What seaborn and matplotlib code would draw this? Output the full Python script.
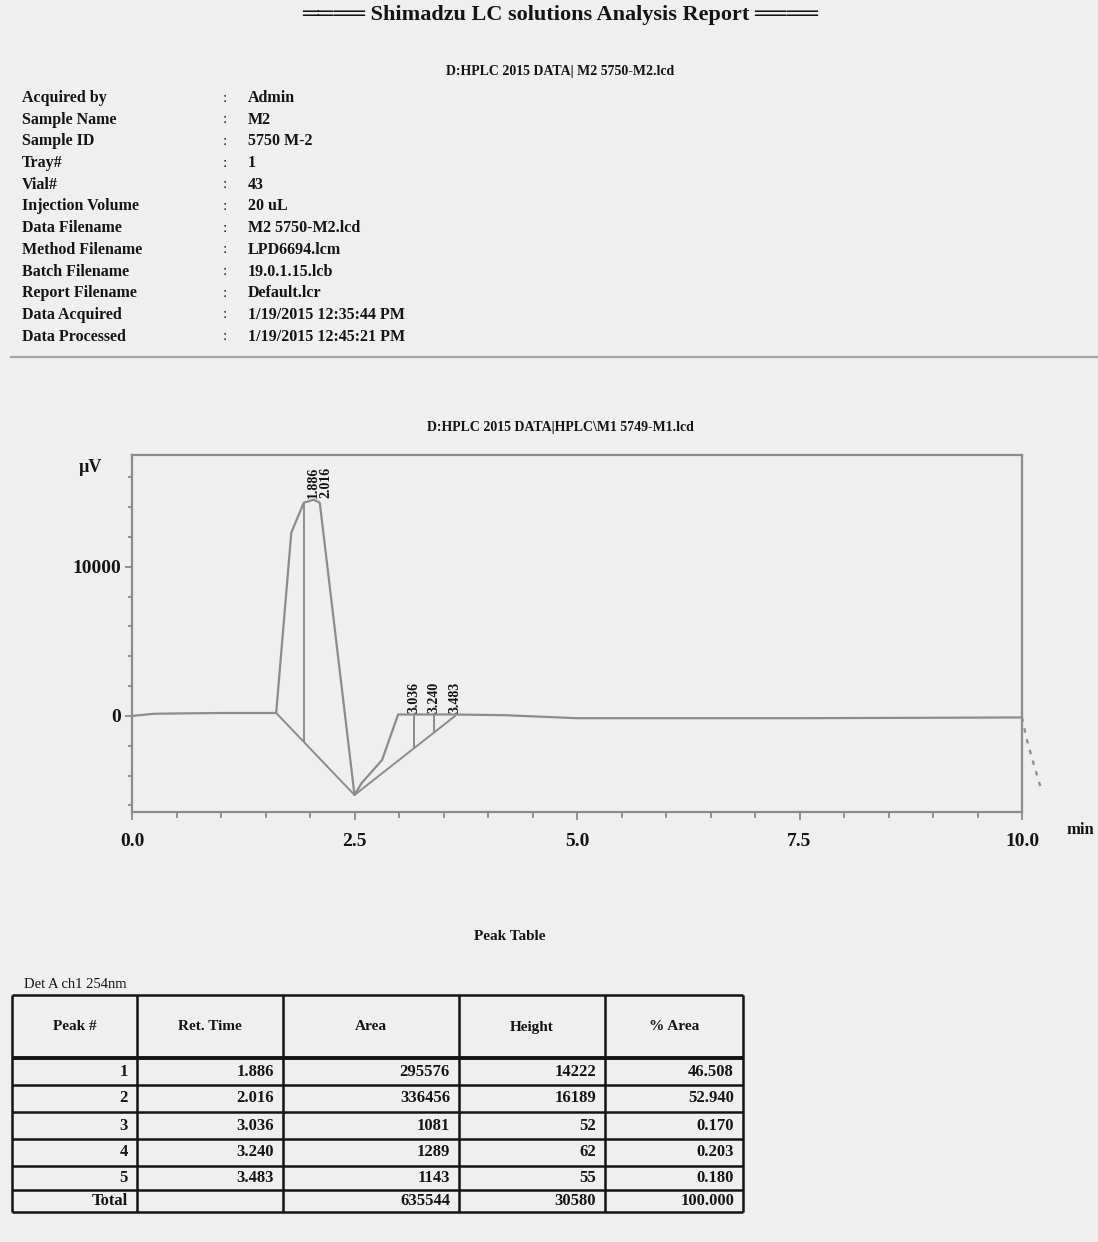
import numpy as np
import matplotlib
matplotlib.use("Agg")
import matplotlib.pyplot as plt
from matplotlib.ticker import MultipleLocator, FixedLocator
import seaborn as sns

W, H = 1098, 1242
BG = "#efefef"
INK = "#141414"
TRACE = "#8c8c8c"

report_title = "════ Shimadzu LC solutions Analysis Report ════"
data_path = "D:HPLC 2015 DATA| M2 5750-M2.lcd"
chart_path = "D:HPLC 2015 DATA|HPLC\\M1 5749-M1.lcd"

info_labels = [
    "Acquired by", "Sample Name", "Sample ID", "Tray#", "Vial#",
    "Injection Volume", "Data Filename", "Method Filename",
    "Batch Filename", "Report Filename", "Data Acquired", "Data Processed",
]
info_values = [
    "Admin", "M2", "5750 M-2", "1", "43", "20 uL", "M2 5750-M2.lcd",
    "LPD6694.lcm", "19.0.1.15.lcb", "Default.lcr",
    "1/19/2015 12:35:44 PM", "1/19/2015 12:45:21 PM",
]

# chromatogram trace (min, uV)
trace_time = [0.00, 0.25, 1.00, 1.62, 1.79, 1.93, 2.04, 2.11, 2.50,
              2.58, 2.81, 2.99, 3.60, 4.20, 5.00, 7.50, 10.00]
trace_uv = [0, 150, 200, 200, 12300, 14300, 14500, 14300, -5300,
            -4500, -2950, 100, 100, 50, -150, -150, -100]
tail_time = [10.00, 10.05, 10.13, 10.22]
tail_uv = [-100, -1500, -3200, -5000]

# drawn integration baseline and drop lines
baseline_time = [1.62, 2.50, 3.63]
baseline_uv = [200, -5300, 0]
drop_time = [1.93, 3.17, 3.39]
label_time = [2.04, 2.18, 3.17, 3.39, 3.63]

# peak table
peak_no = [1, 2, 3, 4, 5]
ret_time = [1.886, 2.016, 3.036, 3.240, 3.483]
area = [295576, 336456, 1081, 1289, 1143]
height = [14222, 16189, 52, 62, 55]
pct_area = [46.508, 52.940, 0.170, 0.203, 0.180]
total_area = 635544
total_height = 30580
total_pct = 100.000
table_headers = ["Peak #", "Ret. Time", "Area", "Height", "% Area"]

sns.set_style("white")
plt.rcParams["font.family"] = ["Liberation Serif", "DejaVu Sans"]
plt.rcParams["font.weight"] = "bold"
plt.rcParams["text.color"] = INK

fig = plt.figure(figsize=(W / 100, H / 100), dpi=100, facecolor=BG)

# page layer in pixel coordinates
page = fig.add_axes([0, 0, 1, 1], zorder=0)
page.set_xlim(0, W)
page.set_ylim(H, 0)
page.axis("off")

page.text(560, 15, report_title, ha="center", va="center", fontsize=16)
page.text(560, 72, data_path, ha="center", va="center", fontsize=10)

for i, (lab, val) in enumerate(zip(info_labels, info_values)):
    y = 98 + i * 21.7
    page.text(22, y, lab, ha="left", va="center", fontsize=11.5)
    page.text(225, y, ":", ha="center", va="center", fontsize=11, weight="normal")
    page.text(248, y, val, ha="left", va="center", fontsize=11.5)

page.hlines(357, 10, W, color="#a8a8a8", lw=1.6)

page.text(560, 427, chart_path, ha="center", va="center", fontsize=10)
page.text(90, 467, "µV", ha="center", va="center", fontsize=13)
page.text(1080, 830, "min", ha="center", va="center", fontsize=12)

# chromatogram
ax = fig.add_axes([132 / W, 1 - 812 / H, (1022 - 132) / W, (812 - 455) / H], zorder=1)
ax.set_facecolor("none")
sns.lineplot(x=trace_time, y=trace_uv, ax=ax, color=TRACE, lw=1.6,
             estimator=None, sort=False)
ax.plot(tail_time, tail_uv, color=TRACE, lw=1.6, ls=(0, (2, 3)), clip_on=False)
ax.plot(baseline_time, baseline_uv, color=TRACE, lw=1.4)
drop_t = np.array(drop_time)
ax.vlines(drop_t, np.interp(drop_t, baseline_time, baseline_uv),
          np.interp(drop_t, trace_time, trace_uv), color=TRACE, lw=1.4)

for t, rt in zip(label_time, ret_time):
    window = np.linspace(t - 0.15, t + 0.15, 31)
    base = np.interp(window, trace_time, trace_uv).max()
    ax.text(t, base + 100, f"{rt:.3f}", rotation=90, ha="center", va="bottom",
            fontsize=10)

ax.set_xlim(0, 10)
ax.set_ylim(-6440, 17500)
ax.xaxis.set_major_locator(MultipleLocator(2.5))
ax.xaxis.set_minor_locator(MultipleLocator(0.5))
ax.xaxis.set_major_formatter(lambda v, p: f"{v:.1f}")
ax.yaxis.set_major_locator(FixedLocator([0, 10000]))
ax.yaxis.set_minor_locator(MultipleLocator(2000))
ax.yaxis.set_major_formatter(lambda v, p: f"{v:.0f}")
ax.tick_params(axis="both", which="both", direction="out", color=TRACE,
               width=1.3, labelsize=14, labelcolor=INK, bottom=True, left=True)
ax.tick_params(axis="x", which="major", length=6, pad=9)
ax.tick_params(axis="x", which="minor", length=4)
ax.tick_params(axis="y", which="major", length=5, pad=3)
ax.tick_params(axis="y", which="minor", length=3)
for sp in ax.spines.values():
    sp.set_visible(True)
    sp.set_color(TRACE)
    sp.set_linewidth(1.6)
ax.set_xlabel("")
ax.set_ylabel("")

# peak table
page.text(510, 937, "Peak Table", ha="center", va="center", fontsize=11)
page.text(24, 984, "Det A ch1 254nm", ha="left", va="center", fontsize=10.5,
          weight="normal")

col_x = [12, 137, 283, 459, 605, 743]
row_y = [995, 1058, 1085, 1112, 1139, 1166, 1190, 1212]
for i, y in enumerate(row_y):
    page.hlines(y, col_x[0], col_x[-1], color=INK, lw=2.8 if i == 1 else 1.8)
page.vlines(col_x, row_y[0], row_y[-1], color=INK, lw=1.8)

for j, head in enumerate(table_headers):
    page.text((col_x[j] + col_x[j + 1]) / 2, 1027, head, ha="center",
              va="center", fontsize=11)

rows = [[f"{n}", f"{rt:.3f}", f"{a}", f"{h}", f"{p:.3f}"]
        for n, rt, a, h, p in zip(peak_no, ret_time, area, height, pct_area)]
rows.append(["Total", "", f"{total_area}", f"{total_height}", f"{total_pct:.3f}"])
for r, cells in enumerate(rows):
    yc = (row_y[r + 1] + row_y[r + 2]) / 2
    for j, txt in enumerate(cells):
        page.text(col_x[j + 1] - 9, yc, txt, ha="right", va="center", fontsize=12)

fig.savefig("out.png", dpi=100, facecolor=BG)
